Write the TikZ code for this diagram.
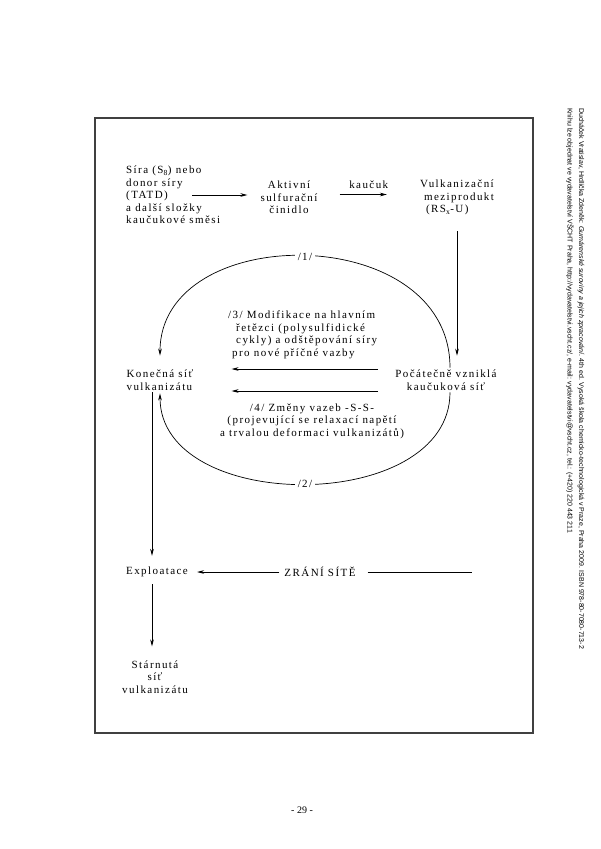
\documentclass[tikz,border=0pt]{standalone}
\usepackage{fontspec}
\setmainfont{Liberation Serif}
\newfontfamily\rozpal[LetterSpace=13]{Liberation Serif}
\newfontfamily\okraj{Liberation Sans}
\usetikzlibrary{arrows.meta}

\begin{document}
\begin{tikzpicture}[
    x=1pt, y=1pt,
    font=\rozpal\fontsize{11}{12.5}\selectfont,
    every node/.append style={inner sep=2pt},
    sipka/.style={-{Stealth[length=7pt,width=3.6pt]}, line width=0.7pt},
    cislo/.style={fill=white, inner sep=3pt},
    tiraz/.style={rotate=-90, anchor=west, inner sep=0pt, font=\okraj\fontsize{7}{8}\selectfont}
]
    \useasboundingbox (0,0) rectangle (600,-849);
    \draw[line width=1.3pt, black!75] (95,-118) rectangle (533,-733);

    % horni rada
    \node[align=left, anchor=west] (sira) at (124,-195)
        {Síra (S\textsubscript{8}) nebo\\donor síry\\(TATD)\\a další složky\\kaučukové směsi};
    \node[align=center] (aktiv) at (289,-197.5) {Aktivní\\sulfurační\\činidlo};
    \node[align=left] (vulk) at (457,-197.5)
        {Vulkanizační\\\hspace*{4pt}meziprodukt\\\hspace*{6pt}(RS\textsubscript{x}-U)};

    % sit
    \node[align=left] (konec) at (160,-380) {Konečná síť\\vulkanizátu};
    \node[align=center] (pocat) at (446,-380) {Počátečně vzniklá\\kaučuková síť};
    \node[align=left, anchor=west] (modif) at (226,-335)
        {/3/ Modifikace na hlavním\\\hspace*{8pt}řetězci (polysulfidické\\\hspace*{8pt}cykly) a odštěpování síry\\\hspace*{4pt}pro nové příčné vazby};
    \node[align=center] (zmeny) at (312,-421)
        {/4/ Změny vazeb -S-S-\\(projevující se relaxací napětí\\a trvalou deformaci vulkanizátů)};

    % dole
    \node (explo) at (157,-572) {Exploatace};
    \node (zrani) at (320,-572) {ZRÁNÍ SÍTĚ};
    \coordinate (zkonec) at (472,-572);
    \node[align=center] (starnu) at (155,-677) {Stárnutá\\síť\\vulkanizátu};

    \draw[sipka, shorten >=11pt] ([xshift=-30pt]sira.east) -- (sira.east -| aktiv.west);
    \draw[sipka, shorten <=20pt, shorten >=31pt] ([yshift=3pt]aktiv.east)
        -- node[above=4pt]{kaučuk} ([yshift=3pt]aktiv.east -| vulk.west);
    \draw[sipka, shorten <=14pt, shorten >=12pt] (vulk.south) -- (vulk.south |- pocat.north);

    \draw[sipka, shorten >=12pt] ([xshift=4pt]pocat.north) to[out=90, in=90, looseness=1.3] node[cislo]{/1/} (konec.north);
    \draw[sipka, shorten <=15pt, shorten >=36pt] ([yshift=11pt]pocat.west) -- ([yshift=11pt]konec.east);
    \draw[sipka, shorten <=15pt, shorten >=36pt] ([yshift=-11pt]pocat.west) -- ([yshift=-11pt]konec.east);
    \draw[sipka, shorten >=1pt] ([xshift=4pt]pocat.south) to[out=-90, in=-90, looseness=1.08] node[cislo]{/2/} (konec.south);

    \coordinate (ks) at ([xshift=-8pt]konec.south);
    \draw[sipka, shorten >=9pt] (ks) -- (ks |- explo.north);
    \coordinate (es) at ([xshift=-5pt]explo.south);
    \draw[sipka, shorten <=5pt, shorten >=12pt] (es) -- (es |- starnu.north);
    \draw[sipka, shorten <=3pt, shorten >=7pt] (zrani.west) -- (explo.east);
    \draw[line width=0.7pt, shorten <=10pt] (zrani.east) -- (zkonec);

    % okraj
    \node[tiraz] (tiraz1) at (581,-108) {Ducháček Vratislav, Hrdlička Zdeněk: \textit{Gumárenské suroviny a jejich zpracování}. 4th ed. Vysoká škola chemicko-technologická v Praze, Praha 2009. ISBN 978-80-7080-713-2};
    \node[tiraz] (tiraz2) at (570,-108) {Knihu lze objednat ve vydavatelství VŠCHT Praha, http://vydavatelstvi.vscht.cz/, e-mail: vydavatelstvi@vscht.cz, tel.: (+420) 220 443 211};
    \node[font=\rmfamily\fontsize{10}{12}\selectfont] (strana) at (302,-810) {- 29 -};
\end{tikzpicture}
\end{document}
